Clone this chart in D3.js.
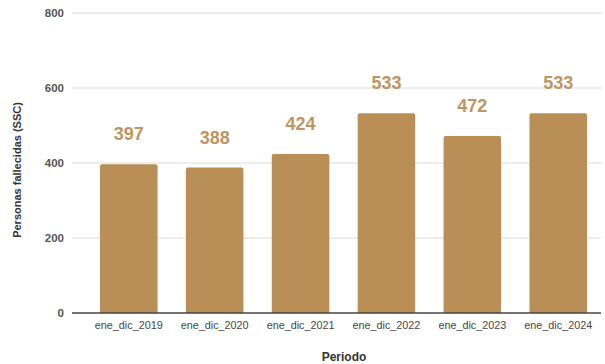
<!DOCTYPE html>
<html>
<head>
<meta charset="utf-8">
<script src="https://cdn.jsdelivr.net/npm/d3@7"></script>
<style>
  html, body { margin: 0; padding: 0; background: #fff; }
  svg { display: block; }
</style>
</head>
<body>
<svg id="chart" width="605" height="364"></svg>
<script>
const categories = ["ene_dic_2019", "ene_dic_2020", "ene_dic_2021", "ene_dic_2022", "ene_dic_2023", "ene_dic_2024"];
const values = [397, 388, 424, 533, 472, 533];
const yTicks = [0, 200, 400, 600, 800];
const yTitle = "Personas fallecidas (SSC)";
const xTitle = "Periodo";

const svg = d3.select("#chart");
const plotLeft = 72, plotRight = 601, plotTop = 13, plotBottom = 313;

const x = d3.scaleBand().domain(categories).range([85.8, 601.2]).paddingInner(0.33).paddingOuter(0.165);
const y = d3.scaleLinear().domain([0, 800]).range([plotBottom, plotTop]);

// gridlines
svg.append("g").selectAll("line").data(yTicks.filter(d => d > 0)).join("line")
  .attr("x1", plotLeft).attr("x2", plotRight)
  .attr("y1", d => y(d)).attr("y2", d => y(d))
  .attr("stroke", "#dcdcdc").attr("stroke-width", 1.2);

// y axis labels
const yAxis = d3.axisLeft(y).tickValues(yTicks).tickSize(0).tickPadding(0).tickFormat(d3.format("d"));
const gy = svg.append("g").attr("transform", `translate(64,0)`).call(yAxis);
gy.select(".domain").remove();
gy.selectAll("text").attr("font-family", "Arial, 'Liberation Sans', sans-serif")
  .attr("font-size", 11.5).attr("font-weight", "bold").attr("fill", "#555");

// bars
svg.append("g").selectAll("path").data(values).join("path")
  .attr("fill", "#b98e57")
  .attr("d", (d, i) => {
    const x0 = x(categories[i]), w = x.bandwidth(), y0 = y(d), yb = y(0), r = 2;
    return `M${x0},${yb}V${y0 + r}Q${x0},${y0} ${x0 + r},${y0}H${x0 + w - r}Q${x0 + w},${y0} ${x0 + w},${y0 + r}V${yb}Z`;
  });

// value labels
svg.append("g").selectAll("text").data(values).join("text")
  .attr("x", (d, i) => x(categories[i]) + x.bandwidth() / 2)
  .attr("y", d => y(d) - 24)
  .attr("text-anchor", "middle")
  .attr("font-family", "Arial, 'Liberation Sans', sans-serif")
  .attr("font-size", 18).attr("font-weight", "bold").attr("fill", "#be9560")
  .text(d => d);

// baseline
svg.append("line").attr("x1", plotLeft).attr("x2", plotRight)
  .attr("y1", y(0)).attr("y2", y(0)).attr("stroke", "#444").attr("stroke-width", 1.5);

// x axis labels
const xAxis = d3.axisBottom(x).tickSize(0).tickPadding(8);
const gx = svg.append("g").attr("transform", `translate(0,${plotBottom})`).call(xAxis);
gx.select(".domain").remove();
gx.selectAll("text").attr("font-family", "Arial, 'Liberation Sans', sans-serif")
  .attr("font-size", 10.8).attr("fill", "#444");

// axis titles
svg.append("text").attr("x", 344).attr("y", 361).attr("text-anchor", "middle")
  .attr("font-family", "Arial, 'Liberation Sans', sans-serif")
  .attr("font-size", 12).attr("font-weight", "bold").attr("fill", "#333").text(xTitle);

svg.append("text").attr("transform", "translate(21,170) rotate(-90)").attr("text-anchor", "middle")
  .attr("font-family", "Arial, 'Liberation Sans', sans-serif")
  .attr("font-size", 11).attr("font-weight", "bold").attr("fill", "#333").text(yTitle);
</script>
</body>
</html>
